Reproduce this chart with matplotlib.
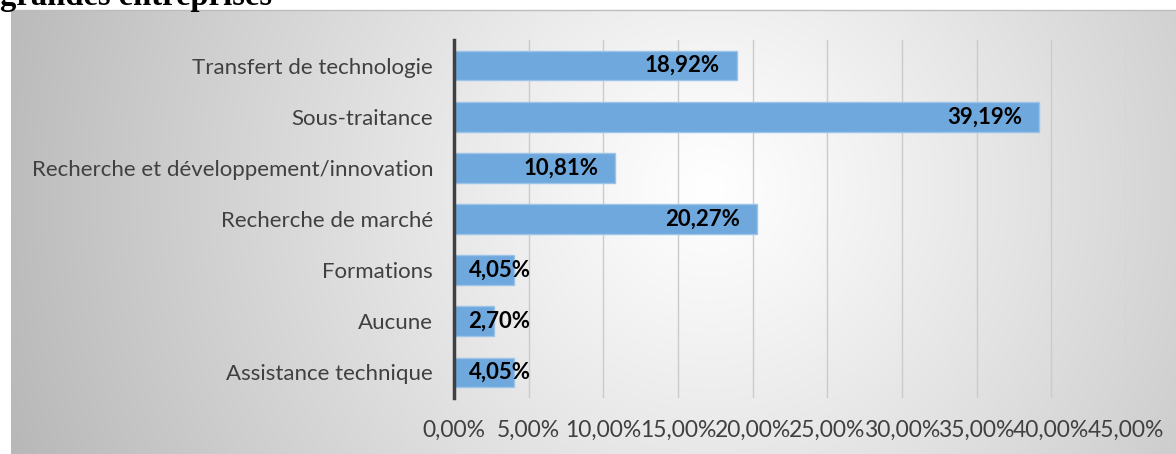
import numpy as np
import matplotlib
matplotlib.use("Agg")
import matplotlib.pyplot as plt
from matplotlib.ticker import FuncFormatter, MultipleLocator

categories = ["Transfert de technologie", "Sous-traitance",
              "Recherche et développement/innovation", "Recherche de marché",
              "Formations", "Aucune", "Assistance technique"]
values = [18.92, 39.19, 10.81, 20.27, 4.05, 2.70, 4.05]
title = "grandes entreprises"

W, H = 1176, 454
fig = plt.figure(figsize=(W / 100, H / 100), dpi=100)
fig.patch.set_facecolor("white")

# gradient background panel
bx0, by0 = 11 / W, 0.0
bw, bh = 1 - bx0, 1 - 10 / H
bg = fig.add_axes([bx0, by0, bw, bh], zorder=0)
nx, ny = 400, 160
xx, yy = np.meshgrid(np.linspace(0, 1, nx), np.linspace(0, 1, ny))
cx, cy = 0.6, 0.4
d = np.sqrt(((xx - cx) * 2.6) ** 2 + ((yy - cy) * 1.0) ** 2)
d = np.clip(d / d.max(), 0, 1)
val = 1.0 - 0.28 * d ** 1.1
img = np.dstack([val, val, val])
bg.imshow(img, aspect="auto", extent=[0, 1, 0, 1], origin="upper")
bg.set_xticks([]); bg.set_yticks([])
for s in bg.spines.values():
    s.set_visible(False)
fig.add_artist(plt.Line2D([bx0, 1], [1 - 10 / H, 1 - 10 / H], color="#bdbdbd", lw=1))

fig.text(0.0, 1 - 5 / H, title, family="Liberation Serif", fontweight="bold",
         fontsize=23.5, va="baseline", ha="left", color="black")

ax = fig.add_axes([454 / W, 1 - 398 / H, (1126 - 454) / W, (398 - 40) / H], zorder=2)
ax.patch.set_alpha(0)
y = np.arange(len(categories))
ax.barh(y, values, height=0.58, color="#6fa8dc", edgecolor="#9cc3e8", linewidth=1, zorder=3)
ax.set_ylim(len(categories) - 0.5, -0.5)
ax.set_xlim(0, 45)
ax.xaxis.set_major_locator(MultipleLocator(5))
ax.xaxis.set_major_formatter(FuncFormatter(lambda v, p: f"{v:.2f}".replace(".", ",") + "%"))
ax.set_yticks(y)
ax.set_yticklabels(categories)
ax.grid(axis="x", color="#cbcbcb", lw=1, zorder=1)
for s in ["top", "right", "bottom"]:
    ax.spines[s].set_visible(False)
ax.spines["left"].set_color("#404040")
ax.spines["left"].set_linewidth(2.5)
ax.spines["left"].set_zorder(4)
ax.tick_params(axis="both", length=0, labelcolor="#404040")
ax.tick_params(axis="y", pad=15, labelsize=16)
ax.tick_params(axis="x", pad=16, labelsize=16.5)
for lab in ax.get_xticklabels() + ax.get_yticklabels():
    lab.set_family("Lato")

for yi, v in zip(y, values):
    txt = f"{v:.2f}".replace(".", ",") + "%"
    if v > 8:
        ax.annotate(txt, (v, yi), xytext=(-12, 0), textcoords="offset points",
                    ha="right", va="center", fontsize=16, fontweight="bold",
                    family="Lato", color="black", zorder=5)
    else:
        ax.annotate(txt, (0, yi), xytext=(10.5, 0), textcoords="offset points",
                    ha="left", va="center", fontsize=16, fontweight="bold",
                    family="Lato", color="black", zorder=5)

fig.savefig("out.png", dpi=100)
